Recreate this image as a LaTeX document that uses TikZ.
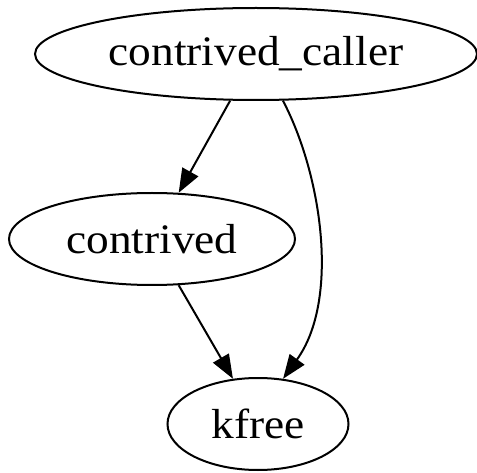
\documentclass[tikz,border=0pt]{standalone}
\usepackage{fontspec}
\setmainfont{Liberation Serif}
\newfontfamily\gfont[FakeStretch=1.08]{Liberation Serif}
\usetikzlibrary{shapes.geometric,arrows.meta}
\begin{document}
\begin{tikzpicture}[x=1pt,y=-1pt,
  gnode/.style={draw=black,ellipse,line width=2pt,inner sep=0pt,
    font=\gfont\fontsize{42}{50}\selectfont},
  gedge/.style={draw=black,line width=2pt,
    -{Triangle[length=24pt,width=18pt]}}]
\useasboundingbox (0,0) rectangle (477,473);
\node[gnode,minimum width=442pt,minimum height=92pt] (caller) at (256,54) {contrived\_caller};
\node[gnode,minimum width=286pt,minimum height=92pt] (contrived) at (152,239) {contrived};
\node[gnode,minimum width=181pt,minimum height=92pt] (kfree) at (258,424) {kfree};
\draw[gedge] (caller.241) -- (contrived.60.5);
\draw[gedge] (contrived.-60) -- (kfree.119);
\draw[gedge] (caller.-60) .. controls (322,175) and (340,300) .. (kfree.61.4);
\end{tikzpicture}
\end{document}
